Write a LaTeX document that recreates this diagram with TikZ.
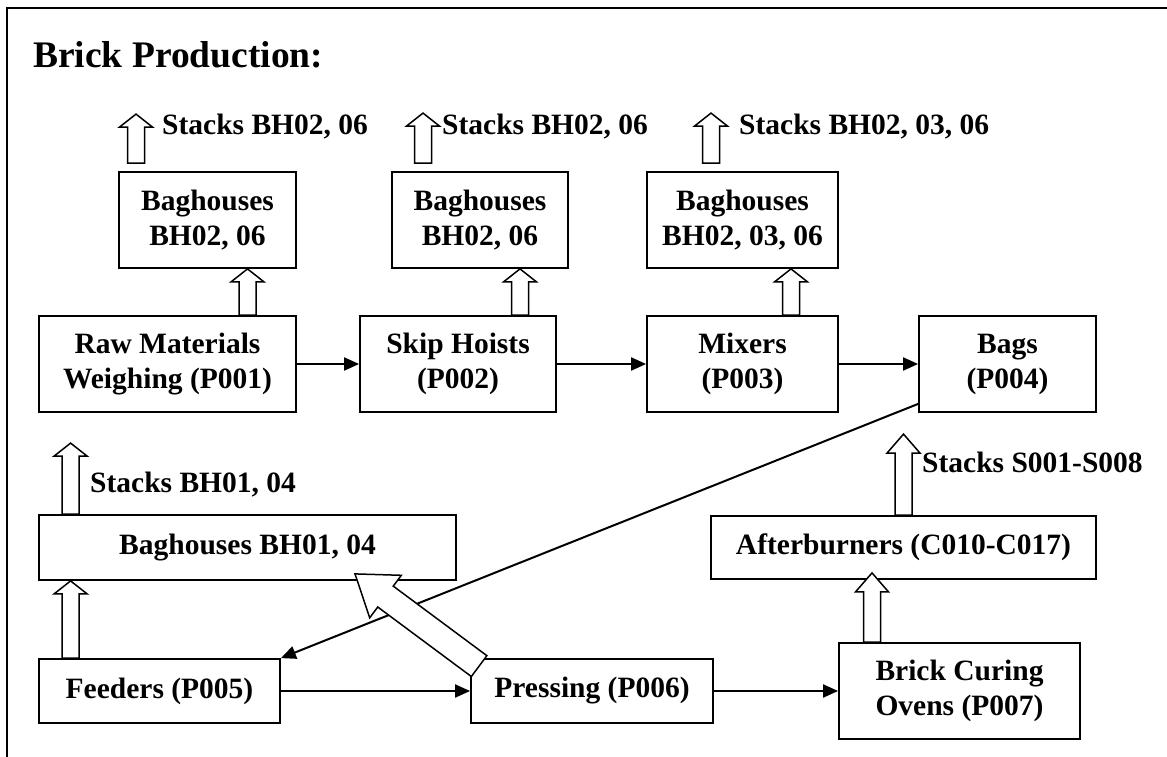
\documentclass[tikz,border=0pt]{standalone}
\usepackage{fontspec}
\setmainfont{Liberation Serif}
\usetikzlibrary{arrows.meta,calc}

% hollow block arrow: tail, tip, half shaft, half head, head length
\newcommand{\hollowarrow}[5]{%
  \path (#1) coordinate (ha-a) (#2) coordinate (ha-b);
  \path ($(ha-b)!#5!(ha-a)$) coordinate (ha-h);
  \draw[fill=white,line width=1.5pt,line join=miter]
    ($(ha-a)!#3!90:(ha-b)$) -- ($(ha-h)!#3!90:(ha-b)$) -- ($(ha-h)!#4!90:(ha-b)$)
    -- (ha-b) -- ($(ha-h)!#4!-90:(ha-b)$) -- ($(ha-h)!#3!-90:(ha-b)$)
    -- ($(ha-a)!#3!-90:(ha-b)$) -- cycle;
}

\begin{document}
\begin{tikzpicture}[x=1pt,y=-1pt,
  box/.style={draw,line width=1.8pt,align=center,inner sep=0pt,
    font=\fontsize{29.5}{35}\selectfont\bfseries},
  stacklabel/.style={anchor=base west,inner sep=0pt,
    font=\fontsize{29.5}{35}\selectfont\bfseries},
  flow/.style={line width=2pt,-{Triangle[length=15pt,width=13pt]}}]
  \useasboundingbox (0,0) rectangle (1167,757);

  % Frame and title
  \draw[line width=1.8pt] (7,757) -- (7,8) -- (1167,8);
  \node (title) [anchor=base west,inner sep=0pt,
    font=\fontsize{37.5}{44}\selectfont\bfseries] at (33,68) {Brick Production:};

  % Baghouses on top row
  \node (bag1) [box,minimum width=177pt,minimum height=96pt] at (207.5,220) {Baghouses\\BH02, 06};
  \node (bag2) [box,minimum width=176pt,minimum height=96pt] at (480,220) {Baghouses\\BH02, 06};
  \node (bag3) [box,minimum width=191pt,minimum height=96pt] at (742.5,220) {Baghouses\\BH02, 03, 06};

  % Process row
  \node (raw) [box,minimum width=257pt,minimum height=96pt] at (167.5,364) {Raw Materials\\Weighing (P001)};
  \node (skip) [box,minimum width=196pt,minimum height=96pt] at (458,364) {Skip Hoists\\(P002)};
  \node (mix) [box,minimum width=191pt,minimum height=96pt] at (742.5,364) {Mixers\\(P003)};
  \node (bags) [box,minimum width=177pt,minimum height=96pt] at (1007.5,364) {Bags\\(P004)};

  % Lower part
  \node (bh14) [box,minimum width=417pt,minimum height=65pt] at (247.5,547.5) {Baghouses BH01, 04};
  \node (after) [box,minimum width=385pt,minimum height=63pt] at (903.5,547.5) {Afterburners (C010-C017)};
  \node (feed) [box,minimum width=241pt,minimum height=64pt] at (159.5,691) {Feeders (P005)};
  \node (press) [box,minimum width=242pt,minimum height=64pt] at (592,691) {Pressing (P006)};
  \node (oven) [box,minimum width=241pt,minimum height=96pt] at (959.5,691) {Brick Curing\\Ovens (P007)};

  % Stack labels
  \node (lab1) [stacklabel] at (162,135) {Stacks BH02, 06};
  \node (lab2) [stacklabel] at (442,135) {Stacks BH02, 06};
  \node (lab3) [stacklabel] at (739,135) {Stacks BH02, 03, 06};
  \node (lab14) [stacklabel] at (90,492) {Stacks BH01, 04};
  \node (lab0108) [stacklabel] at (922,472) {Stacks S001-S008};

  % Material flow
  \draw[flow] (raw.east) -- (skip.west);
  \draw[flow] (skip.east) -- (mix.west);
  \draw[flow] (mix.east) -- (bags.west);
  \draw[flow] ($(bags.south west)+(0,-9)$) -- (feed.north east);
  \draw[flow] (feed.east) -- (press.west);
  \draw[flow] (press.east) -- (oven.west);

  % Exhaust to baghouses and stacks
  \hollowarrow{$(raw.north)+(80,0)$}{$(bag1.south)+(40,0)$}{8.5pt}{16.5pt}{13pt}
  \hollowarrow{$(skip.north)+(62,0)$}{$(bag2.south)+(40,0)$}{8.5pt}{16.5pt}{13pt}
  \hollowarrow{$(mix.north)+(48.5,0)$}{$(bag3.south)+(48.5,0)$}{8.5pt}{16.5pt}{13pt}
  \hollowarrow{$(bag1.north)+(-71.5,-8)$}{$(bag1.north)+(-71.5,-57)$}{8.5pt}{16.5pt}{13pt}
  \hollowarrow{$(bag2.north)+(-57,-8)$}{$(bag2.north)+(-57,-58)$}{8.5pt}{16.5pt}{13pt}
  \hollowarrow{$(bag3.north)+(-31.5,-8)$}{$(bag3.north)+(-31.5,-58)$}{8.5pt}{16.5pt}{13pt}
  \hollowarrow{$(feed.north west)+(32.5,0)$}{$(bh14.south west)+(32.5,0)$}{8.5pt}{16.5pt}{13pt}
  \hollowarrow{$(bh14.north west)+(32.5,0)$}{$(bh14.north west)+(32.5,-71)$}{8.5pt}{16.5pt}{13pt}
  \hollowarrow{$(oven.north)+(-87.5,0)$}{$(after.south)+(-31.5,-7)$}{8.5pt}{16.5pt}{19pt}
  \hollowarrow{$(after.north)+(0,0)$}{$(after.north)+(0,-81)$}{8.5pt}{16.5pt}{19pt}
  \hollowarrow{$(press.north west)+(9,8)$}{$(bh14.south)+(107.5,-7)$}{13pt}{26.5pt}{38pt}
\end{tikzpicture}
\end{document}
